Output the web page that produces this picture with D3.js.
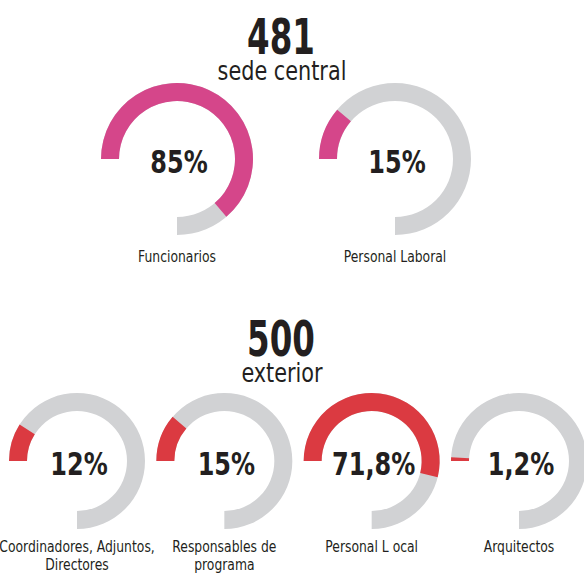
<!DOCTYPE html>
<html>
<head>
<meta charset="utf-8">
<script src="https://cdn.jsdelivr.net/npm/d3@7"></script>
<style>
  body { margin: 0; background: #fff; }
  text { font-family: "DejaVu Sans", sans-serif; fill: #231f20; }
</style>
</head>
<body>
<script>
var w = 584;
var h = 573;

// group headers
var totals = ["481", "500"];
var subtitles = ["sede central", "exterior"];

// sede central
var topCats = ["Funcionarios", "Personal Laboral"];
var topValues = [85, 15];
var topLabels = ["85%", "15%"];

// exterior
var botCats = [["Coordinadores, Adjuntos,", "Directores"], ["Responsables de", "programa"], ["Personal L ocal"], ["Arquitectos"]];
var botValues = [12, 15, 71.8, 1.2];
var botLabels = ["12%", "15%", "71,8%", "1,2%"];

var svg = d3.select("body")
            .append("svg")
            .attr("width", w)
            .attr("height", h);

// angle scale: 270 degree gauge, starting at 9 o'clock going clockwise
var angle = d3.scaleLinear()
              .domain([0, 100])
              .range([-Math.PI / 2, Math.PI]);

// squeeze text horizontally to get a condensed look
function squeeze(sel, x, y, sx) {
  sel.attr("transform", "translate(" + x + "," + y + ") scale(" + sx + ",1)");
}

function drawGroup(cfg) {
  var x = d3.scalePoint()
            .domain(d3.range(cfg.values.length))
            .range(cfg.range);

  var arc = d3.arc()
              .innerRadius(cfg.r - 18)
              .outerRadius(cfg.r);

  var g = svg.selectAll("g." + cfg.cls)
             .data(cfg.values)
             .enter()
             .append("g")
             .attr("class", cfg.cls)
             .attr("transform", function(d, i) { return "translate(" + x(i) + "," + cfg.cy + ")"; });

  // background track
  g.append("path")
   .attr("d", function() { return arc({startAngle: angle(0), endAngle: angle(100)}); })
   .attr("fill", "#d1d2d4");

  // value
  g.append("path")
   .attr("d", function(d) { return arc({startAngle: angle(0), endAngle: angle(d)}); })
   .attr("fill", cfg.color);

  g.append("text")
   .text(function(d, i) { return cfg.labels[i]; })
   .attr("text-anchor", "middle")
   .attr("font-size", 32)
   .attr("font-weight", "bold")
   .call(squeeze, 2, 14, 0.75);

  var lab = g.append("text")
             .attr("text-anchor", "middle")
             .attr("font-size", 16.5)
             .call(squeeze, 0, cfg.labelY, 0.75);
  lab.selectAll("tspan")
     .data(function(d, i) { var c = cfg.cats[i]; return Array.isArray(c) ? c : [c]; })
     .enter()
     .append("tspan")
     .attr("x", 0)
     .attr("y", function(d, j) { return j * 18; })
     .text(function(d) { return d; });
}

drawGroup({cls: "top", values: topValues, labels: topLabels, cats: topCats,
           range: [177, 395], cy: 159, r: 76, color: "#d5468a", labelY: 103});
drawGroup({cls: "bot", values: botValues, labels: botLabels, cats: botCats,
           range: [77, 519], cy: 461, r: 68, color: "#db3a41", labelY: 91});

// headers
var headY = [54, 356];
svg.selectAll("text.total")
   .data(totals)
   .enter()
   .append("text")
   .attr("class", "total")
   .text(function(d) { return d; })
   .attr("text-anchor", "middle")
   .attr("font-size", 50)
   .attr("font-weight", "bold")
   .each(function(d, i) { d3.select(this).call(squeeze, 281, headY[i], 0.65); });

svg.selectAll("text.sub")
   .data(subtitles)
   .enter()
   .append("text")
   .attr("class", "sub")
   .text(function(d) { return d; })
   .attr("text-anchor", "middle")
   .attr("font-size", 26)
   .each(function(d, i) { d3.select(this).call(squeeze, 282, headY[i] + 26, 0.8); });
</script>
</body>
</html>
